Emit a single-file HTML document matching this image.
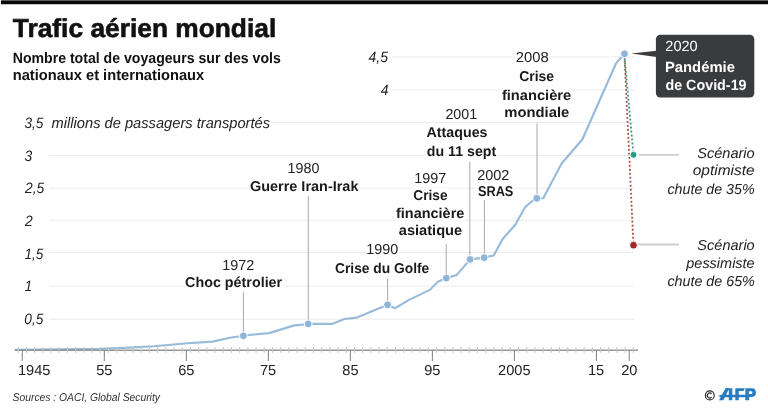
<!DOCTYPE html>
<html><head><meta charset="utf-8"><title>Trafic aérien mondial</title>
<style>html,body{margin:0;padding:0;background:#fff;width:768px;height:413px;overflow:hidden}
svg text{font-family:"Liberation Sans",sans-serif;text-rendering:geometricPrecision}</style></head>
<body><div style="will-change:transform;width:768px;height:413px">
<svg width="768" height="413" viewBox="0 0 768 413" style="display:block">
<rect width="768" height="413" fill="#fff"/>
<rect x="1" y="0.35" width="767" height="3.9" fill="#0a0a0a"/>
<line x1="392" y1="57" x2="634" y2="57" stroke="#ebebeb" stroke-width="1"/>
<line x1="392" y1="90" x2="634" y2="90" stroke="#ebebeb" stroke-width="1"/>
<line x1="271" y1="122.5" x2="634" y2="122.5" stroke="#ebebeb" stroke-width="1"/>
<line x1="49" y1="155.4" x2="634" y2="155.4" stroke="#ebebeb" stroke-width="1"/>
<line x1="49" y1="188.2" x2="634" y2="188.2" stroke="#ebebeb" stroke-width="1"/>
<line x1="49" y1="220.3" x2="634" y2="220.3" stroke="#ebebeb" stroke-width="1"/>
<line x1="49" y1="252.4" x2="634" y2="252.4" stroke="#ebebeb" stroke-width="1"/>
<line x1="49" y1="286.2" x2="634" y2="286.2" stroke="#ebebeb" stroke-width="1"/>
<line x1="49" y1="319.2" x2="634" y2="319.2" stroke="#ebebeb" stroke-width="1"/>
<rect x="222.40" y="257.80" width="32.00" height="15.50" fill="#fff"/>
<rect x="184.60" y="274.20" width="98.40" height="15.50" fill="#fff"/>
<rect x="287.70" y="160.40" width="32.00" height="15.50" fill="#fff"/>
<rect x="249.50" y="178.50" width="110.00" height="15.50" fill="#fff"/>
<rect x="366.50" y="241.25" width="32.20" height="15.50" fill="#fff"/>
<rect x="334.60" y="260.00" width="95.30" height="15.50" fill="#fff"/>
<rect x="414.30" y="170.40" width="32.10" height="15.50" fill="#fff"/>
<rect x="412.80" y="187.80" width="35.30" height="15.50" fill="#fff"/>
<rect x="395.30" y="205.20" width="69.60" height="15.50" fill="#fff"/>
<rect x="398.20" y="222.70" width="64.50" height="15.50" fill="#fff"/>
<rect x="445.10" y="106.80" width="32.20" height="15.00" fill="#fff"/>
<rect x="426.00" y="124.50" width="62.00" height="15.50" fill="#fff"/>
<rect x="426.30" y="143.10" width="70.90" height="15.50" fill="#fff"/>
<rect x="476.90" y="167.10" width="32.70" height="15.50" fill="#fff"/>
<rect x="477.30" y="183.50" width="36.60" height="15.50" fill="#fff"/>
<rect x="515.60" y="49.50" width="33.50" height="15.50" fill="#fff"/>
<rect x="518.70" y="68.70" width="36.00" height="15.50" fill="#fff"/>
<rect x="501.20" y="87.20" width="70.60" height="15.50" fill="#fff"/>
<rect x="504.30" y="104.10" width="65.40" height="15.50" fill="#fff"/>
<path d="M243.4 291.9V333 M308.3 196V321 M387.6 278.4V302 M446.2 243.9V275 M469.8 161.7V256 M484.4 200V255 M537.0 123.4V195" stroke="#a8a8a8" stroke-width="1" fill="none"/>
<polyline points="15.5,349.8 60,349.4 100,348.8 130,347.6 153.9,346.2 187.8,343.3 212.4,341.6 230,337.7 243.4,335.8 248.3,335 269.2,333.1 294.2,325.4 302.5,324.6 308.2,323.9 331.9,323.9 344.4,319 356.9,317.6 382.9,306.7 387.6,304.9 395.1,308.2 408.6,300.1 429.8,289.9 437.9,281.8 446.3,278.1 456.6,275.1 470.1,259.4 484.2,257.6 493.7,255.5 502.6,239.1 515.3,224.7 525.2,207 532.3,201 536.7,198.3 543.3,198.2 561.6,163.5 582.3,139.5 616.1,63.2 621.2,57.4 624.5,54" fill="none" stroke="#97bbd9" stroke-width="2.15" stroke-linejoin="round" stroke-linecap="round"/>
<line x1="15" y1="350.3" x2="638" y2="350.3" stroke="#8c8c8c" stroke-width="1.4" stroke-opacity="0.9"/>
<path d="M18.20 347V353 M26.40 347V353 M34.60 347V353 M42.80 347V353 M51.01 347V353 M59.21 347V353 M67.41 347V353 M75.61 347V353 M83.81 347V353 M92.02 347V353 M100.22 347V353 M108.42 347V353 M116.62 347V353 M124.83 347V353 M133.03 347V353 M141.23 347V353 M149.43 347V353 M157.63 347V353 M165.84 347V353 M174.04 347V353 M182.24 347V353 M190.44 347V353 M198.64 347V353 M206.84 347V353 M215.05 347V353 M223.25 347V353 M231.45 347V353 M239.65 347V353 M247.86 347V353 M256.06 347V353 M264.26 347V353 M272.46 347V353 M280.66 347V353 M288.87 347V353 M297.07 347V353 M305.27 347V353 M313.47 347V353 M321.67 347V353 M329.88 347V353 M338.08 347V353 M346.28 347V353 M354.48 347V353 M362.68 347V353 M370.88 347V353 M379.09 347V353 M387.29 347V353 M395.49 347V353 M403.69 347V353 M411.89 347V353 M420.10 347V353 M428.30 347V353 M436.50 347V353 M444.70 347V353 M452.91 347V353 M461.11 347V353 M469.31 347V353 M477.51 347V353 M485.71 347V353 M493.92 347V353 M502.12 347V353 M510.32 347V353 M518.52 347V353 M526.72 347V353 M534.92 347V353 M543.13 347V353 M551.33 347V353 M559.53 347V353 M567.73 347V353 M575.93 347V353 M584.14 347V353 M592.34 347V353 M600.54 347V353 M608.74 347V353 M616.94 347V353 M625.15 347V353 M633.35 347V353" stroke="#c6c6c6" stroke-width="1" fill="none"/>
<path d="M22.30 350V361 M104.32 350V361 M186.34 350V361 M268.36 350V361 M350.38 350V361 M432.40 350V361 M514.42 350V361 M596.44 350V361 M629.25 350V361" stroke="#8a8a8a" stroke-width="1.1" fill="none"/>
<line x1="624.5" y1="57" x2="633.5" y2="245" stroke="#a84a3b" stroke-width="1.8" stroke-dasharray="1.8 2.2"/>
<line x1="624.5" y1="57" x2="633.5" y2="155" stroke="#2e9382" stroke-width="1.8" stroke-dasharray="1.8 2.2" stroke-dashoffset="2"/>
<circle cx="243.4" cy="335.8" r="3.95" fill="#8fb6d8" stroke="#fff" stroke-width="1"/>
<circle cx="308.2" cy="323.9" r="3.95" fill="#8fb6d8" stroke="#fff" stroke-width="1"/>
<circle cx="387.6" cy="304.8" r="3.95" fill="#8fb6d8" stroke="#fff" stroke-width="1"/>
<circle cx="446.3" cy="278.1" r="3.95" fill="#8fb6d8" stroke="#fff" stroke-width="1"/>
<circle cx="470.1" cy="259.4" r="3.95" fill="#8fb6d8" stroke="#fff" stroke-width="1"/>
<circle cx="484.2" cy="257.7" r="3.95" fill="#8fb6d8" stroke="#fff" stroke-width="1"/>
<circle cx="536.8" cy="198.3" r="3.95" fill="#8fb6d8" stroke="#fff" stroke-width="1"/>
<circle cx="624.5" cy="53.8" r="3.95" fill="#8fb6d8" stroke="#fff" stroke-width="1"/>
<line x1="639" y1="154.9" x2="679" y2="154.9" stroke="#cfcfcf" stroke-width="1.8"/>
<line x1="638" y1="244.5" x2="679" y2="244.5" stroke="#cfcfcf" stroke-width="1.8"/>
<circle cx="633.5" cy="154.8" r="3.5" fill="#27a08a" stroke="#fff" stroke-width="1"/>
<circle cx="633.5" cy="245.2" r="3.9" fill="#a3282b" stroke="#fff" stroke-width="1"/>
<rect x="655.9" y="34.7" width="98.4" height="62.9" rx="4.5" fill="#3a3b3d"/>
<path d="M631.3 53.4 L656.5 50.8 L656.5 57 Z" fill="#3a3b3d"/>
<text transform="translate(12.84,36.8) scale(1.015,1)" font-size="25.942" font-weight="bold" font-style="normal" fill="#111" stroke="#111" stroke-width="0.6">Trafic aérien mondial</text>
<text transform="translate(12.71,62.6) scale(0.9364,1)" font-size="15.072" font-weight="bold" font-style="normal" fill="#111">Nombre total de voyageurs sur des vols</text>
<text transform="translate(12.67,80.3) scale(0.9737,1)" font-size="15.072" font-weight="bold" font-style="normal" fill="#111">nationaux et internationaux</text>
<text transform="translate(24.49,127.6) scale(0.9025,1)" font-size="15.072" font-weight="normal" font-style="italic" fill="#222">3,5</text>
<text transform="translate(51.61,127.6) scale(0.9735,1)" font-size="15.072" font-weight="normal" font-style="italic" fill="#222">millions de passagers transportés</text>
<text transform="translate(24.48,160.6) scale(0.9231,1)" font-size="15.072" font-weight="normal" font-style="italic" fill="#222">3</text>
<text transform="translate(24.9,193.4) scale(0.9231,1)" font-size="15.072" font-weight="normal" font-style="italic" fill="#222">2,5</text>
<text transform="translate(24.9,225.5) scale(0.9231,1)" font-size="15.072" font-weight="normal" font-style="italic" fill="#222">2</text>
<text transform="translate(24.49,258.9) scale(0.9025,1)" font-size="15.072" font-weight="normal" font-style="italic" fill="#222">1,5</text>
<text transform="translate(24.48,291.4) scale(0.9231,1)" font-size="15.072" font-weight="normal" font-style="italic" fill="#222">1</text>
<text transform="translate(24.35,324.2) scale(0.9092,1)" font-size="15.072" font-weight="normal" font-style="italic" fill="#222">0,5</text>
<text transform="translate(368.56,61.7) scale(0.9279,1)" font-size="15.072" font-weight="normal" font-style="italic" fill="#222">4,5</text>
<text transform="translate(380.76,95.0) scale(0.9231,1)" font-size="15.072" font-weight="normal" font-style="italic" fill="#222">4</text>
<text transform="translate(222.25,270.3) scale(0.9904,1)" font-size="14.493" font-weight="normal" font-style="normal" fill="#222">1972</text>
<text transform="translate(185.03,286.7) scale(1.01,1)" font-size="14.203" font-weight="bold" font-style="normal" fill="#1a1a1a">Choc pétrolier</text>
<text transform="translate(287.56,172.9) scale(0.9857,1)" font-size="14.493" font-weight="normal" font-style="normal" fill="#222">1980</text>
<text transform="translate(249.92,191.0) scale(1.0193,1)" font-size="14.203" font-weight="bold" font-style="normal" fill="#1a1a1a">Guerre Iran-Irak</text>
<text transform="translate(366.35,253.75) scale(0.9923,1)" font-size="14.493" font-weight="normal" font-style="normal" fill="#222">1990</text>
<text transform="translate(335.05,272.5) scale(0.9718,1)" font-size="14.203" font-weight="bold" font-style="normal" fill="#1a1a1a">Crise du Golfe</text>
<text transform="translate(414.15,182.9) scale(0.9937,1)" font-size="14.493" font-weight="normal" font-style="normal" fill="#222">1997</text>
<text transform="translate(413.25,200.3) scale(0.9649,1)" font-size="14.203" font-weight="bold" font-style="normal" fill="#1a1a1a">Crise</text>
<text transform="translate(396.01,217.7) scale(1.0192,1)" font-size="14.203" font-weight="bold" font-style="normal" fill="#1a1a1a">financière</text>
<text transform="translate(398.76,235.2) scale(1.0306,1)" font-size="14.203" font-weight="bold" font-style="normal" fill="#1a1a1a">asiatique</text>
<text transform="translate(445.39,119.3) scale(0.9829,1)" font-size="14.493" font-weight="normal" font-style="normal" fill="#222">2001</text>
<text transform="translate(426.57,137.0) scale(1.0034,1)" font-size="14.203" font-weight="bold" font-style="normal" fill="#1a1a1a">Attaques</text>
<text transform="translate(426.73,155.6) scale(1.0023,1)" font-size="14.203" font-weight="bold" font-style="normal" fill="#1a1a1a">du 11 sept</text>
<text transform="translate(477.18,179.6) scale(0.9992,1)" font-size="14.493" font-weight="normal" font-style="normal" fill="#222">2002</text>
<text transform="translate(477.92,196.0) scale(0.8989,1)" font-size="14.203" font-weight="bold" font-style="normal" fill="#1a1a1a">SRAS</text>
<text transform="translate(515.86,62.0) scale(1.0204,1)" font-size="14.493" font-weight="normal" font-style="normal" fill="#222">2008</text>
<text transform="translate(519.14,81.2) scale(0.9851,1)" font-size="14.203" font-weight="bold" font-style="normal" fill="#1a1a1a">Crise</text>
<text transform="translate(501.91,99.7) scale(1.0343,1)" font-size="14.203" font-weight="bold" font-style="normal" fill="#1a1a1a">financière</text>
<text transform="translate(504.26,116.6) scale(1.043,1)" font-size="14.203" font-weight="bold" font-style="normal" fill="#1a1a1a">mondiale</text>
<text transform="translate(665.37,51.1) scale(0.9845,1)" font-size="14.783" font-weight="normal" font-style="normal" fill="#fff">2020</text>
<text transform="translate(664.96,72.0) scale(1.003,1)" font-size="14.783" font-weight="bold" font-style="normal" fill="#fff">Pandémie</text>
<text transform="translate(665.43,89.5) scale(0.9693,1)" font-size="14.783" font-weight="bold" font-style="normal" fill="#fff">de Covid-19</text>
<text transform="translate(697.16,158.1) scale(1.0065,1)" font-size="14.493" font-weight="normal" font-style="italic" fill="#222">Scénario</text>
<text transform="translate(692.74,175.1) scale(1.0675,1)" font-size="14.493" font-weight="normal" font-style="italic" fill="#222">optimiste</text>
<text transform="translate(667.47,193.7) scale(0.9836,1)" font-size="14.493" font-weight="normal" font-style="italic" fill="#222">chute de 35%</text>
<text transform="translate(697.36,250.0) scale(1.003,1)" font-size="14.493" font-weight="normal" font-style="italic" fill="#222">Scénario</text>
<text transform="translate(686.29,268.1) scale(0.9991,1)" font-size="14.493" font-weight="normal" font-style="italic" fill="#222">pessimiste</text>
<text transform="translate(667.47,285.9) scale(0.9859,1)" font-size="14.493" font-weight="normal" font-style="italic" fill="#222">chute de 65%</text>
<text transform="translate(17.93,375.0) scale(1.0087,1)" font-size="14.493" font-weight="normal" font-style="normal" fill="#222">1945</text>
<text transform="translate(96.19,375.0) scale(1.0087,1)" font-size="14.493" font-weight="normal" font-style="normal" fill="#222">55</text>
<text transform="translate(178.21,375.0) scale(1.0087,1)" font-size="14.493" font-weight="normal" font-style="normal" fill="#222">65</text>
<text transform="translate(259.91,375.0) scale(1.0087,1)" font-size="14.493" font-weight="normal" font-style="normal" fill="#222">75</text>
<text transform="translate(342.29,375.0) scale(1.0087,1)" font-size="14.493" font-weight="normal" font-style="normal" fill="#222">85</text>
<text transform="translate(424.21,375.0) scale(1.0087,1)" font-size="14.493" font-weight="normal" font-style="normal" fill="#222">95</text>
<text transform="translate(498.1,375.0) scale(1.0087,1)" font-size="14.493" font-weight="normal" font-style="normal" fill="#222">2005</text>
<text transform="translate(587.99,375.0) scale(1.0087,1)" font-size="14.493" font-weight="normal" font-style="normal" fill="#222">15</text>
<text transform="translate(621.21,375.0) scale(1.0087,1)" font-size="14.493" font-weight="normal" font-style="normal" fill="#222">20</text>
<text transform="translate(12.59,401.1) scale(0.9131,1)" font-size="11.304" font-weight="normal" font-style="italic" fill="#333">Sources : OACI, Global Security</text>
<circle cx="709.8" cy="395.4" r="4.45" fill="none" stroke="#2a2a2a" stroke-width="1.15"/>
<path d="M711.6 393.9 A2.35 2.6 0 1 0 711.6 397.1" fill="none" stroke="#2a2a2a" stroke-width="1.15"/>
<g fill="#2a7cc1"><path d="M718.1 396.1 L721.2 394.8 L748 394.8 L748 397.3 L721 397.3 Z"/><path d="M719 400.3 L723.4 400.3 L729.3 388.2 L725.5 388.2 Z"/><path d="M725.5 388.2 L732.3 388.2 L732.3 400.3 L728.8 400.3 L728.8 390.2 L725.5 390.2 Z"/><path d="M735.3 388.2 L744.9 388.2 L743.5 391 L738.8 391 L738.8 400.3 L735.3 400.3 Z"/><path fill-rule="evenodd" d="M745.4 388.2 L752 388.2 Q755.9 388.2 755.9 392.5 Q755.9 396.9 752 396.9 L749.2 396.9 L749.2 400.3 L745.2 400.3 Z M748.9 391.3 L751.4 391.3 Q752.4 391.3 752.4 392.6 Q752.4 393.9 751.4 393.9 L748.9 393.9 Z"/></g>
</svg>
</div></body></html>
